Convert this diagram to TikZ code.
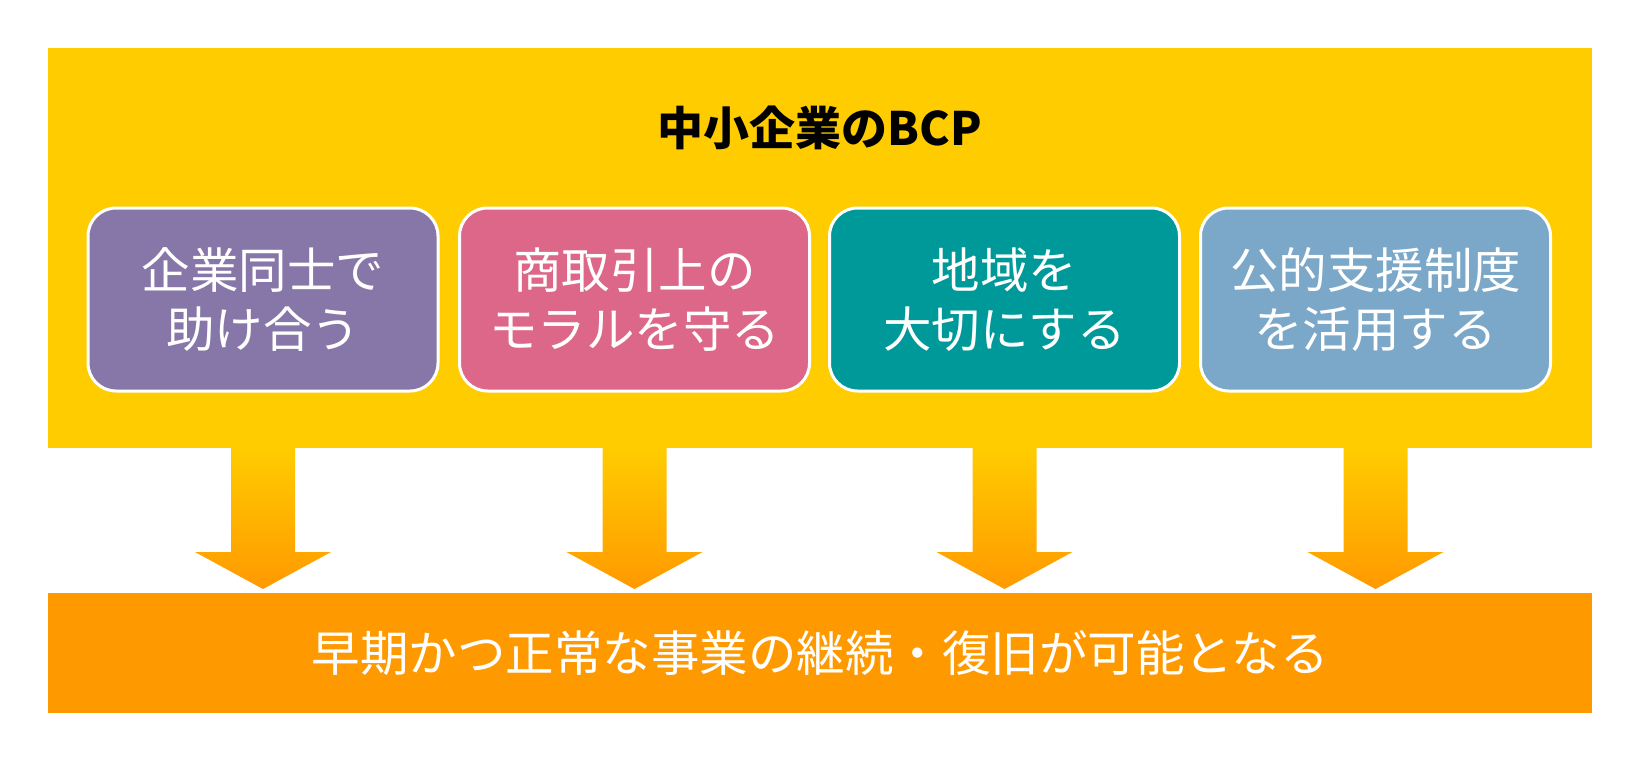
\documentclass[tikz,border=0pt]{standalone}
\usepackage{fontspec}
\setmainfont{Noto Sans CJK JP}
\usetikzlibrary{positioning,calc}
\definecolor{bcpyellow}{HTML}{FFCC00}
\definecolor{bcporange}{HTML}{FF9900}
\definecolor{cpurple}{HTML}{8777A8}
\definecolor{cpink}{HTML}{DC6788}
\definecolor{cteal}{HTML}{009999}
\definecolor{cblue}{HTML}{7BA7C8}
\tikzset{
  itembox/.style={draw=white, line width=3pt, rounded corners=28pt, minimum width=350pt, minimum height=183pt,
    text=white, align=center, font=\fontsize{48.5}{59}\selectfont, inner sep=0pt},
  bigarrow/.style={top color=bcpyellow, bottom color=bcporange, draw=none},
}
\begin{document}
\begin{tikzpicture}[x=1pt,y=-1pt]
\useasboundingbox (0,0) rectangle (1640,761);
\fill[white] (0,0) rectangle (1640,761);
% yellow panel
\node[fill=bcpyellow, minimum width=1544pt, minimum height=400pt, inner sep=0pt, anchor=north west] (panel) at (48,48) {};
\node[font=\fontsize{46}{54}\selectfont\bfseries, text=black] (title) at (820,128) {中小企業のBCP};
% item boxes
\node[itembox, fill=cpurple] (b1) at (263,299.5) {企業同士で\\助け合う};
\node[itembox, fill=cpink] (b2) at (634.5,299.5) {商取引上の\\モラルを守る};
\node[itembox, fill=cteal] (b3) at (1004.5,299.5) {地域を\\大切にする};
\node[itembox, fill=cblue] (b4) at (1375.5,299.5) {公的支援制度\\を活用する};
% result bar
\node[fill=bcporange, minimum width=1544pt, minimum height=120pt, inner sep=0pt, anchor=north west,
  text=white, font=\fontsize{48.5}{58}\selectfont] (result) at (48,593) {早期かつ正常な事業の継続・復旧が可能となる};
% arrows
\foreach \b in {b1,b2,b3,b4}{
  \path[bigarrow] let \p1=(\b.south) in
    (\x1-32pt,448) -- (\x1+32pt,448) -- (\x1+32pt,552) -- (\x1+68pt,552) -- (\x1,589) -- (\x1-68pt,552) -- (\x1-32pt,552) -- cycle;
}
\end{tikzpicture}
\end{document}
